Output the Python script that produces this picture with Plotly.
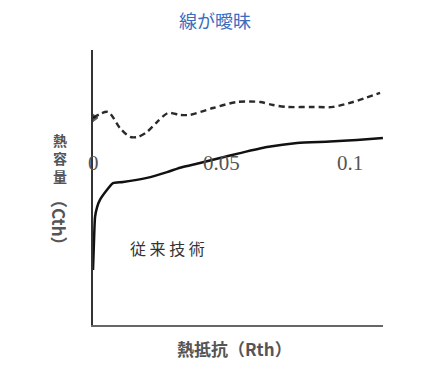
import plotly.graph_objects as go

# Data (arbitrary Cth units on y; Rth on x)
dashed_x = [0.0, 0.0058, 0.0105, 0.0144, 0.0175, 0.021, 0.0249, 0.0292, 0.0339, 0.0377,
            0.0467, 0.056, 0.065, 0.070, 0.0755, 0.0856, 0.0934, 0.1012, 0.1117]
dashed_y = [7.53, 7.75, 7.16, 6.84, 6.84, 7.02, 7.38, 7.71, 7.64, 7.64,
            7.89, 8.11, 8.11, 8.0, 7.93, 7.93, 7.93, 8.11, 8.44]
solid_x = [0.0, 0.0004, 0.0008, 0.0016, 0.0027, 0.0054, 0.0078, 0.0117, 0.021, 0.0288,
           0.0339, 0.0416, 0.0494, 0.0572, 0.0677, 0.0794, 0.0922, 0.1027, 0.1128]
solid_y = [2.0, 3.09, 3.93, 4.29, 4.55, 4.91, 5.16, 5.2, 5.35, 5.56,
           5.72, 5.89, 6.07, 6.25, 6.47, 6.62, 6.67, 6.73, 6.8]
tick_vals = [0, 0.05, 0.1]
tick_text = ["0", "0.05", "0.1"]
tick_label_y = 5.89
title_text = "線が曖昧"
y_title_upright = ["熱", "容", "量"]
y_title_rotated = "（Cth）"
x_title = "熱抵抗（Rth）"
curve_label = "従 来 技 術"
curve_label_pos = (0.0288, 2.8)

X_RANGE = [0, 0.11284]
Y_RANGE = [0, 10]

fig = go.Figure()
fig.add_trace(go.Scatter(
    x=dashed_x, y=dashed_y, mode="lines+markers",
    line=dict(color="#2a2a2a", width=2.4, dash="6px,4px", shape="spline", smoothing=0.8),
    marker=dict(symbol="triangle-right", size=[10] + [0] * (len(dashed_x) - 1), color="#111"),
    showlegend=False, hoverinfo="skip"))
fig.add_trace(go.Scatter(
    x=solid_x, y=solid_y, mode="lines",
    line=dict(color="#111", width=2.5, shape="spline", smoothing=0.6),
    showlegend=False, hoverinfo="skip"))

ann = []
for v, t in zip(tick_vals, tick_text):
    ann.append(dict(x=v, y=tick_label_y, xref="x", yref="y", text=t, showarrow=False,
                    font=dict(family="Liberation Serif", size=21, color="#555"),
                    xanchor="center", yanchor="middle"))
ann.append(dict(x=curve_label_pos[0], y=curve_label_pos[1], xref="x", yref="y",
                text=curve_label, showarrow=False,
                font=dict(family="Noto Sans CJK JP", size=16, color="#333"),
                xanchor="center", yanchor="middle"))
# vertical y title: upright CJK stacked, then rotated Latin part
ann.append(dict(x=(60 - 93) / 290, y=(325 - 158) / 275, xref="paper", yref="paper",
                text="<b>" + "<br>".join(y_title_upright) + "</b>", showarrow=False,
                font=dict(family="Noto Sans CJK JP", size=14, color="#555"),
                xanchor="center", yanchor="middle"))
ann.append(dict(x=(60 - 93) / 290, y=(325 - 222) / 275, xref="paper", yref="paper",
                text="<b>" + y_title_rotated + "</b>", showarrow=False, textangle=90,
                font=dict(family="Noto Sans CJK JP", size=17, color="#555"),
                xanchor="center", yanchor="middle"))
ann.append(dict(x=(234 - 93) / 290, y=(325 - 348) / 275, xref="paper", yref="paper",
                text="<b>" + x_title + "</b>", showarrow=False,
                font=dict(family="Noto Sans CJK JP", size=17, color="#555"),
                xanchor="center", yanchor="middle"))

fig.update_layout(
    width=435, height=371,
    margin=dict(l=93, r=52, t=50, b=46),
    paper_bgcolor="white", plot_bgcolor="white",
    title=dict(text=title_text, x=215 / 435, xanchor="center", y=1 - 22 / 371, yanchor="middle",
               font=dict(family="Noto Sans CJK JP", size=18, color="#3a6cc0")),
    xaxis=dict(range=X_RANGE, showgrid=False, zeroline=False, showticklabels=False,
               ticks="", showline=True, linecolor="#666", linewidth=1.5),
    yaxis=dict(range=Y_RANGE, showgrid=False, zeroline=False, showticklabels=False,
               ticks="", showline=True, linecolor="#333", linewidth=2),
    annotations=ann,
)
fig.write_html("out.html", config={"displayModeBar": False},
               post_script="document.body.style.margin='0px';")
